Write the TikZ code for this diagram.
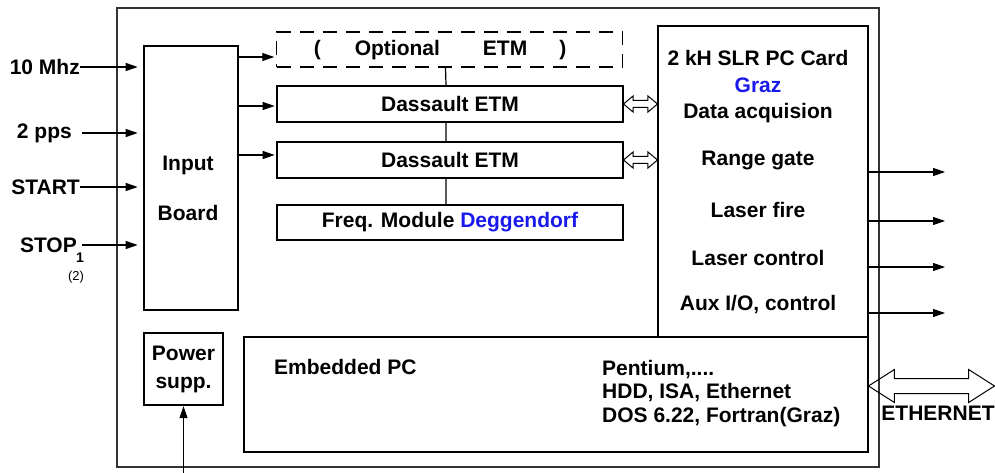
\documentclass[tikz,border=0pt]{standalone}
\usepackage{fontspec}
\setmainfont{Liberation Sans}
\usetikzlibrary{arrows.meta,shapes.arrows}
\definecolor{grazblue}{RGB}{25,25,235}

\begin{document}
\begin{tikzpicture}[x=1pt, y=-1pt,
    every node/.style={inner sep=0pt, font=\fontsize{21}{24}\selectfont\bfseries},
    box/.style={draw, line width=1.7pt, minimum width=346pt, minimum height=36pt},
    sig/.style={-{Triangle[length=12pt,width=8pt]}, line width=1.1pt},
    dbl/.style={draw, double arrow, line width=1pt, inner sep=3pt, minimum height=34pt,
        double arrow head extend=4.5pt, double arrow tip angle=80}]
    \useasboundingbox (0,0) rectangle (995,473);
    % Frame
    \node [draw, line width=1.2pt, black!80, minimum width=762pt, minimum height=459pt] (frame) at (498,237.5) {};
    % Boxes
    \node [box, line width=2.6pt, minimum width=94pt, minimum height=264pt] (board) at (191,178) {};
    \node [box, line width=1.5pt, dash pattern=on 14pt off 9pt, minimum height=35pt] (opt) at (449.5,49.5) {};
    \node [box] (etmA) at (450,104) {Dassault ETM};
    \node [box] (etmB) at (450,160) {Dassault ETM};
    \node [box, minimum height=35pt] (freq) at (450,222.5) {Freq. Module \textcolor{grazblue}{Deggendorf}};
    \node [box, line width=2.4pt, minimum width=210pt, minimum height=311pt] (card) at (763,181.5) {};
    \node [box, line width=2.4pt, minimum width=624pt, minimum height=115pt] (pc) at (556,394.5) {};
    \node [box, line width=2.4pt, minimum width=79pt, minimum height=72pt, align=center,
        font=\fontsize{21}{28}\selectfont\bfseries] (power) at (183.5,369) {Power\\supp.};
    % Labels
    \node (inputtxt) at (188,165) {Input};
    \node (boardtxt) at (188,213) {Board};
    \node (opttxt) at (440,50) {(\hspace{34pt}Optional\hspace{43pt}ETM\hspace{32pt})};
    \node [text=grazblue] (graz) at (758,85) {Graz};
    \foreach \y/\t [count=\i] in {58/2 kH SLR PC Card, 113/Data acquision, 161/Range gate,
        210/Laser fire, 258/Laser control, 305/{Aux I/O, control}}
    {
    \node (cardtxt\i) at (758,\y) {\t};
    }
    \node [anchor=west] (pctxt) at (274,367) {Embedded PC};
    \node [anchor=north west, align=left, font=\fontsize{21}{23.5}\selectfont\bfseries] (pcspec)
        at (602,360) {Pentium,....\\HDD, ISA, Ethernet\\DOS 6.22, Fortran(Graz)};
    % Inputs
    \node [anchor=east] (tenmhz) at (80,67) {10 Mhz};
    \node [anchor=east] (pps) at (72,133) {2 pps};
    \node [anchor=east] (start) at (80,187) {START};
    \node [anchor=east] (stop) at (77,245) {STOP};
    \node [font=\fontsize{14}{16}\selectfont\bfseries] (stopsub) at (80,258) {1};
    \node [font=\fontsize{13}{15}\selectfont] (stopnote) at (76,277) {(2)};
    \draw [sig, shorten >=5pt] (tenmhz.east) -- (board.west |- tenmhz);
    \draw [sig, shorten <=10pt, shorten >=5pt] (pps.east) -- (board.west |- pps);
    \draw [sig, shorten >=5pt] (start.east) -- (board.west |- start);
    \draw [sig, shorten <=5pt, shorten >=5pt] (stop.east) -- (board.west |- stop);
    % Board to ETM
    \foreach \b/\y in {opt/57, etmA/106, etmB/155}
    {
    \draw [sig, shorten >=1.5pt] (board.east |- 0,\y) -- (\b.west |- 0,\y);
    }
    \draw [line width=1.2pt]
        ([xshift=-4pt]opt.south) -- ([xshift=-4pt]etmA.north)
        ([xshift=-4pt]etmA.south) -- ([xshift=-4pt]etmB.north)
        ([xshift=-4pt]etmB.south) -- ([xshift=-4pt]freq.north);
    % Links to card
    \node [dbl] (linkA) at (640.5,104) {};
    \node [dbl] (linkB) at (640.5,160) {};
    % Outputs
    \foreach \y [count=\i] in {172,221,267,313}
    {
    \coordinate (out\i) at (945,\y);
    \draw [sig] (card.east |- out\i) -- (out\i);
    }
    % Power
    \coordinate (mains) at (183.5,473);
    \draw [sig] (mains) -- (power.south);
    % Ethernet
    \node [dbl, inner sep=7pt, minimum height=126pt, double arrow head extend=9pt,
        double arrow tip angle=65] (eth) at (931.5,386) {};
    \node (ethtxt) at (938,413) {ETHERNET};
\end{tikzpicture}
\end{document}
